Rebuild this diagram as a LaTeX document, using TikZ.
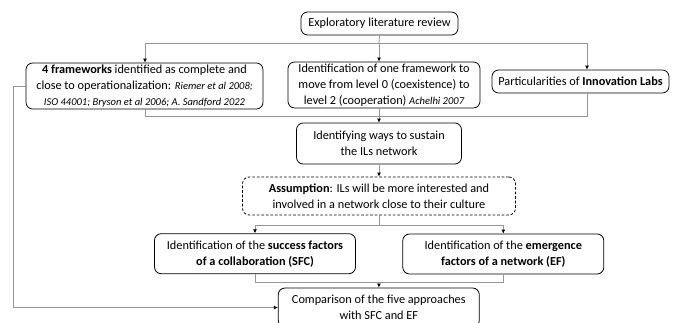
\documentclass[tikz,border=0pt]{standalone}
\usepackage{fontspec}
\setmainfont{Carlito}
\usetikzlibrary{arrows.meta, positioning, calc}
\definecolor{linkgray}{RGB}{150, 150, 150}
\newcommand{\worksref}[1]{{\fontsize{7.9}{12}\selectfont\itshape #1}}

\begin{document}
\begin{tikzpicture}[x=0.75pt, y=-0.75pt,
    stepbox/.style={draw=black, line width=0.6pt, rounded corners=5pt, align=center,
      inner sep=1pt, fill=white, font=\fontsize{9.2}{12}\selectfont},
    guessbox/.style={stepbox, dash pattern=on 2pt off 1.4pt},
    link/.style={draw=linkgray, line width=0.6pt},
    linkarr/.style={link, -{Latex[black, length=3pt, width=3pt]}}]
  \fill[white] (0,0) rectangle (686,322);
  \useasboundingbox (0,0) rectangle (686,322);
  \clip (0,0) rectangle (686,322);

  % --- Literature review and the three first findings ---
  \node[stepbox, minimum width=117.75pt, minimum height=17.25pt] (review) at (379.5,23.5)
    {Exploratory literature review};
  \node[stepbox, minimum width=177.75pt, minimum height=34.5pt] (frames) at (144.5,86)
    {\textbf{4 frameworks} identified as complete and\\
     close to operationalization: \worksref{Riemer et al 2008;}\\
     \worksref{ISO 44001; Bryson et al 2006; A. Sandford 2022}};
  \node[stepbox, minimum width=144pt, minimum height=34.5pt] (levels) at (384,85)
    {Identification of one framework to\\
     move from level 0 (coexistence) to\\
     level 2 (cooperation) \worksref{Achelhi 2007}};
  \node[stepbox, minimum width=132.75pt, minimum height=17.25pt] (labs) at (580.5,81.5)
    {Particularities of \textbf{Innovation Labs}};

  % --- Sustaining the network ---
  \node[stepbox, minimum width=123.75pt, minimum height=30.75pt] (sustain) at (379,143.5)
    {Identifying ways to sustain\\ the ILs network};
  \node[guessbox, minimum width=204.75pt, minimum height=28.5pt] (assume) at (379,196)
    {\textbf{Assumption}: ILs will be more interested and\\
     involved in a network close to their culture};

  % --- Factors and comparison ---
  \node[stepbox, minimum width=150.75pt, minimum height=30pt] (sfc) at (255,253.7)
    {Identification of the \textbf{success factors}\\ \textbf{of a collaboration (SFC)}};
  \node[stepbox, minimum width=150.75pt, minimum height=30pt] (ef) at (503.3,254)
    {Identification of the \textbf{emergence}\\ \textbf{factors of a network (EF)}};
  \node[stepbox, minimum width=150.75pt, minimum height=29.25pt] (compare) at (378.8,307.5)
    {Comparison of the five approaches\\ with SFC and EF};

  % --- Connectors ---
  \coordinate (split) at (379,43);
  \coordinate (s1) at (145,43);
  \coordinate (s3) at (587,43);
  \draw[link] (review.south) -- (split);
  \draw[link] (s1) -- (s3);
  \draw[linkarr] (s1) -- (s1 |- frames.north);
  \draw[linkarr] (split) -- (split |- levels.north);
  \draw[linkarr] (s3) -- (s3 |- labs.north);

  \coordinate (m1) at (145,116);
  \coordinate (m3) at (587,116);
  \draw[link] (frames.south -| m1) -- (m1) -- (m3) -- (m3 |- labs.south);
  \draw[linkarr] (levels.south -| split) -- (split |- sustain.north);
  \draw[linkarr] (sustain.south) -- (assume.north);

  \coordinate (j2) at (379,225);
  \draw[link] (assume.south) -- (j2);
  \draw[link] (j2 -| sfc) -- (j2 -| ef);
  \draw[linkarr] (j2 -| sfc) -- (sfc.north);
  \draw[linkarr] (j2 -| ef) -- (ef.north);

  \coordinate (j3) at (379,282);
  \draw[link] (sfc.south) -- (sfc.south |- j3) -- (ef.south |- j3) -- (ef.south);
  \draw[linkarr] (j3) -- (compare.north);

  \coordinate (lft) at (13,0);
  \draw[linkarr] (frames.west) -- (frames.west -| lft) -- (lft |- compare.west) -- (compare.west);
\end{tikzpicture}
\end{document}
